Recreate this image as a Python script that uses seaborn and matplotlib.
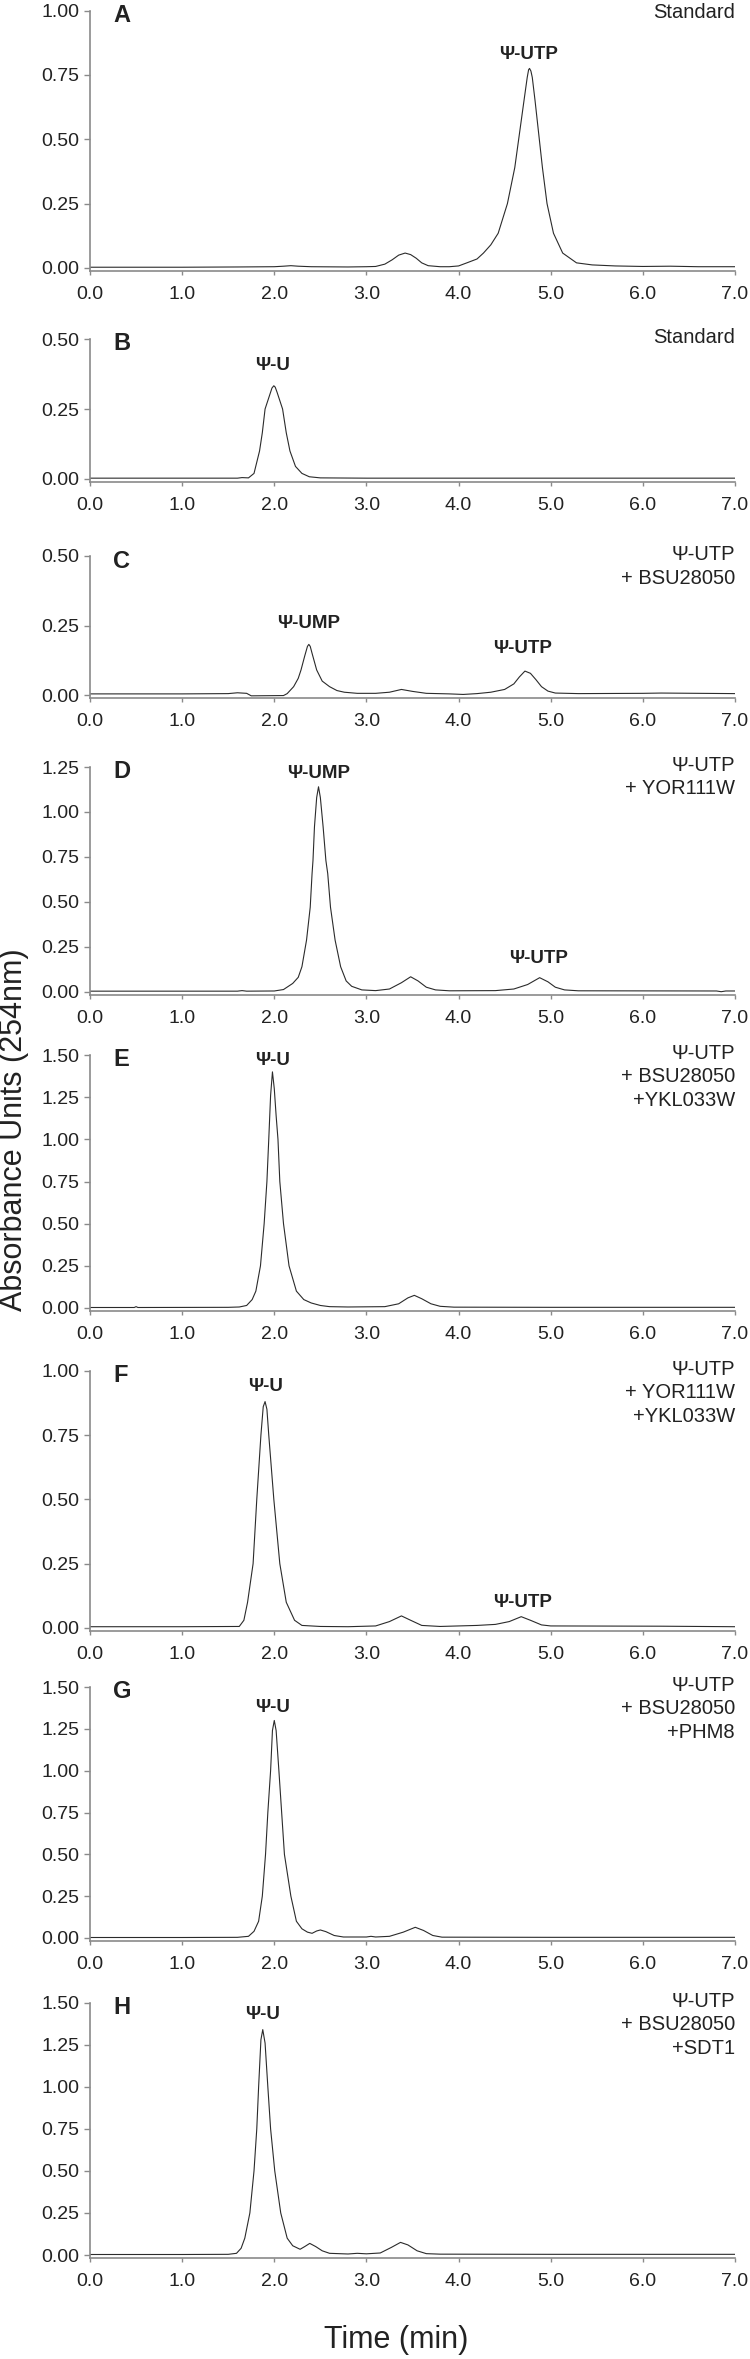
import matplotlib
matplotlib.use("Agg")
import matplotlib.pyplot as plt
import seaborn as sns

# Chromatogram traces (time in min, absorbance at 254nm)
a_time = [0.0, 1.0, 1.6, 2.0, 2.1, 2.18, 2.26, 2.4, 2.8, 3.0, 3.1, 3.2, 3.28, 3.35, 3.42, 3.48,
          3.54, 3.6, 3.67, 3.8, 3.9, 4.0, 4.09, 4.2, 4.27, 4.35, 4.43, 4.53, 4.61, 4.66, 4.71,
          4.745, 4.76, 4.77, 4.785, 4.80, 4.83, 4.87, 4.91, 4.96, 5.03, 5.13, 5.28, 5.45, 5.7,
          6.0, 6.3, 6.6, 7.0]
a_abs = [0.003, 0.003, 0.004, 0.005, 0.007, 0.009, 0.007, 0.005, 0.004, 0.005, 0.006, 0.015, 0.032,
         0.05, 0.058, 0.052, 0.038, 0.02, 0.009, 0.005, 0.005, 0.008, 0.02, 0.035, 0.058, 0.09,
         0.135, 0.25, 0.39, 0.52, 0.65, 0.74, 0.77, 0.775, 0.765, 0.74, 0.65, 0.52, 0.39, 0.25,
         0.135, 0.058, 0.02, 0.012, 0.008, 0.006, 0.007, 0.005, 0.005]

b_time = [0.0, 1.0, 1.6, 1.65, 1.72, 1.78, 1.84, 1.87, 1.90, 1.95, 1.975, 1.995, 2.01, 2.03,
          2.05, 2.09, 2.13, 2.17, 2.23, 2.30, 2.38, 2.5, 3.0, 4.0, 5.0, 6.0, 7.0]
b_abs = [0.003, 0.003, 0.003, 0.005, 0.004, 0.02, 0.1, 0.165, 0.25, 0.30, 0.325, 0.333, 0.328,
         0.31, 0.29, 0.25, 0.165, 0.1, 0.045, 0.02, 0.008, 0.004, 0.003, 0.003, 0.003, 0.003,
         0.003]

c_time = [0.0, 1.0, 1.5, 1.6, 1.7, 1.75, 2.1, 2.14, 2.21, 2.26, 2.29, 2.33, 2.36, 2.375, 2.39,
          2.41, 2.46, 2.52, 2.6, 2.68, 2.76, 2.9, 3.1, 3.25, 3.38, 3.5, 3.65, 3.9, 4.05, 4.2, 4.35,
          4.5, 4.6, 4.66, 4.72, 4.78, 4.84, 4.9, 4.97, 5.05, 5.3, 6.0, 6.2, 7.0]
c_abs = [0.004, 0.004, 0.005, 0.008, 0.006, -0.003, -0.002, 0.005, 0.03, 0.06, 0.09, 0.14, 0.175,
         0.182, 0.175, 0.15, 0.09, 0.05, 0.03, 0.016, 0.01, 0.006, 0.006, 0.01, 0.02, 0.013,
         0.006, 0.004, 0.002, 0.005, 0.01, 0.02, 0.04, 0.065, 0.086, 0.078, 0.055, 0.03, 0.014,
         0.007, 0.005, 0.006, 0.007, 0.005]

d_time = [0.0, 1.0, 1.6, 1.65, 1.7, 2.0, 2.1, 2.2, 2.26, 2.30, 2.35, 2.39, 2.41, 2.42, 2.436,
          2.46, 2.48, 2.50, 2.53, 2.56, 2.58, 2.61, 2.66, 2.72, 2.78, 2.84, 2.95, 3.1, 3.25, 3.38,
          3.48, 3.56, 3.65, 3.75, 3.9, 4.4, 4.6, 4.75, 4.88, 4.97, 5.05, 5.15, 5.3, 6.8, 6.85,
          6.9, 7.0]
d_abs = [0.003, 0.003, 0.003, 0.006, 0.003, 0.004, 0.012, 0.046, 0.08, 0.139, 0.287, 0.47, 0.657,
         0.73, 0.917, 1.08, 1.14, 1.08, 0.917, 0.73, 0.657, 0.47, 0.287, 0.139, 0.06, 0.03, 0.01,
         0.006, 0.015, 0.05, 0.083, 0.06, 0.025, 0.01, 0.005, 0.006, 0.015, 0.04, 0.078, 0.055,
         0.025, 0.01, 0.005, 0.004, 0.0, 0.004, 0.004]

e_time = [0.0, 0.48, 0.5, 0.52, 1.5, 1.62, 1.7, 1.76, 1.80, 1.85, 1.89, 1.92, 1.94, 1.96, 1.98,
          2.0, 2.02, 2.04, 2.06, 2.10, 2.16, 2.24, 2.32, 2.40, 2.5, 2.6, 2.8, 3.2, 3.35, 3.45,
          3.52, 3.6, 3.7, 3.8, 3.95, 5.0, 6.0, 7.0]
e_abs = [0.003, 0.003, 0.008, 0.003, 0.004, 0.006, 0.015, 0.05, 0.1, 0.25, 0.5, 0.75, 1.0, 1.26,
         1.40, 1.30, 1.14, 1.0, 0.75, 0.5, 0.25, 0.1, 0.05, 0.03, 0.015, 0.008, 0.006, 0.008,
         0.025, 0.06, 0.075, 0.055, 0.025, 0.01, 0.005, 0.004, 0.004, 0.004]

f_time = [0.0, 1.0, 1.62, 1.67, 1.71, 1.77, 1.81, 1.855, 1.88, 1.90, 1.92, 1.94, 1.995, 2.06,
          2.13, 2.22, 2.30, 2.5, 2.8, 3.1, 3.25, 3.38, 3.48, 3.6, 3.8, 4.2, 4.4, 4.55, 4.68, 4.78,
          4.9, 5.0, 6.2, 7.0]
f_abs = [0.005, 0.005, 0.006, 0.03, 0.1, 0.25, 0.5, 0.75, 0.86, 0.88, 0.85, 0.75, 0.5, 0.25, 0.1,
         0.03, 0.01, 0.006, 0.005, 0.008, 0.025, 0.047, 0.03, 0.01, 0.006, 0.01, 0.014, 0.025,
         0.044, 0.03, 0.012, 0.008, 0.007, 0.005]

g_time = [0.0, 1.0, 1.6, 1.72, 1.78, 1.83, 1.87, 1.905, 1.93, 1.96, 1.98, 2.0, 2.02, 2.05, 2.08,
          2.11, 2.18, 2.24, 2.3, 2.36, 2.41, 2.46, 2.50, 2.56, 2.65, 2.75, 3.0, 3.05, 3.1, 3.25,
          3.4, 3.53, 3.62, 3.72, 3.82, 5.0, 7.0]
g_abs = [0.003, 0.003, 0.004, 0.01, 0.04, 0.1, 0.25, 0.5, 0.75, 1.0, 1.24, 1.30, 1.24, 1.0, 0.75,
         0.5, 0.25, 0.1, 0.055, 0.035, 0.028, 0.042, 0.048, 0.038, 0.015, 0.006, 0.006, 0.01,
         0.006, 0.01, 0.035, 0.064, 0.045, 0.015, 0.005, 0.004, 0.004]

h_time = [0.0, 1.0, 1.5, 1.59, 1.64, 1.68, 1.735, 1.78, 1.81, 1.83, 1.855, 1.875, 1.90, 1.93,
          1.96, 2.005, 2.07, 2.14, 2.2, 2.28, 2.33, 2.385, 2.45, 2.52, 2.6, 2.8, 2.9, 3.0, 3.15,
          3.27, 3.37, 3.45, 3.55, 3.65, 3.8, 5.0, 7.0]
h_abs = [0.003, 0.003, 0.004, 0.01, 0.04, 0.1, 0.25, 0.5, 0.75, 1.0, 1.28, 1.34, 1.26, 1.0, 0.75,
         0.5, 0.25, 0.1, 0.055, 0.034, 0.05, 0.069, 0.05, 0.025, 0.01, 0.006, 0.01, 0.007, 0.012,
         0.045, 0.075, 0.06, 0.025, 0.008, 0.005, 0.004, 0.004]

panel_letters = ["A", "B", "C", "D", "E", "F", "G", "H"]
panel_notes = ["Standard", "Standard", "Ψ-UTP\n+ BSU28050", "Ψ-UTP\n+ YOR111W",
               "Ψ-UTP\n+ BSU28050\n+YKL033W", "Ψ-UTP\n+ YOR111W\n+YKL033W",
               "Ψ-UTP\n+ BSU28050\n+PHM8", "Ψ-UTP\n+ BSU28050\n+SDT1"]
y_max = [1.0, 0.5, 0.5, 1.25, 1.5, 1.0, 1.5, 1.5]
peak_labels = [
    [("Ψ-UTP", 4.76, 0.83)],
    [("Ψ-U", 1.98, 0.407)],
    [("Ψ-UMP", 2.37, 0.257), ("Ψ-UTP", 4.69, 0.168)],
    [("Ψ-UMP", 2.48, 1.215), ("Ψ-UTP", 4.87, 0.187)],
    [("Ψ-U", 1.98, 1.47)],
    [("Ψ-U", 1.90, 0.94), ("Ψ-UTP", 4.69, 0.10)],
    [("Ψ-U", 1.98, 1.38)],
    [("Ψ-U", 1.87, 1.43)],
]
traces = [(a_time, a_abs), (b_time, b_abs), (c_time, c_abs), (d_time, d_abs),
          (e_time, e_abs), (f_time, f_abs), (g_time, g_abs), (h_time, h_abs)]

# pixel layout of each panel: top tick and zero line
top_px = [10.5, 339, 556, 767, 1055, 1370.7, 1687, 2002.7]
zero_px = [268, 479, 695, 991.7, 1308, 1628, 1938, 2255]

sns.set_style("ticks")
plt.rcParams["font.family"] = ["Liberation Sans", "DejaVu Sans"]

W, H = 750, 2359
fig = plt.figure(figsize=(W / 100, H / 100), dpi=100)

axis_grey = "#8a8a8a"
for i in range(8):
    bottom = zero_px[i] + 3
    ax = fig.add_axes([90 / W, 1 - bottom / H, 645 / W, (bottom - top_px[i]) / H])
    t, v = traces[i]
    sns.lineplot(x=t, y=v, ax=ax, color="#2b2b2b", linewidth=0.8)
    scale = (zero_px[i] - top_px[i]) / y_max[i]
    ax.set_ylim(-3 / scale, y_max[i])
    ax.set_xlim(0, 7)
    ax.set_xticks([0, 1, 2, 3, 4, 5, 6, 7])
    ax.set_xticklabels(["%.1f" % x for x in range(8)])
    yt = [k * 0.25 for k in range(int(round(y_max[i] / 0.25)) + 1)]
    ax.set_yticks(yt)
    ax.set_yticklabels(["%.2f" % y for y in yt])
    for s in ["top", "right"]:
        ax.spines[s].set_visible(False)
    for s in ["left", "bottom"]:
        ax.spines[s].set_color(axis_grey)
        ax.spines[s].set_linewidth(1.2)
    ax.tick_params(axis="y", length=4.5, width=1, color=axis_grey, labelsize=14,
                   labelcolor="#222222", pad=3)
    ax.tick_params(axis="x", length=3, width=1, color=axis_grey, labelsize=14,
                   labelcolor="#222222", pad=8)
    ax.set_xlabel("")
    ax.set_ylabel("")

    ax.annotate(panel_letters[i], xy=(0, 1), xycoords="axes fraction",
                xytext=(23, -5), textcoords="offset pixels", ha="left", va="center",
                fontsize=17, fontweight="bold", color="#222222")
    note_off = 8 if i == 0 else 11
    ax.annotate(panel_notes[i], xy=(1, 1), xycoords="axes fraction",
                xytext=(0, note_off), textcoords="offset pixels", ha="right", va="top",
                multialignment="right", fontsize=14.5, linespacing=1.3, color="#222222")
    for lab, px, py in peak_labels[i]:
        ax.text(px, py, lab, ha="center", va="center", fontsize=13.5,
                fontweight="bold", color="#222222")

fig.text(14 / W, 1 - 1130 / H, "Absorbance Units (254nm)", rotation=90, ha="center",
         va="center", fontsize=22, color="#222222")
fig.text(396 / W, 1 - 2340 / H, "Time (min)", ha="center", va="center", fontsize=22,
         color="#222222")

fig.savefig("out.png", dpi=100)
plt.close(fig)
